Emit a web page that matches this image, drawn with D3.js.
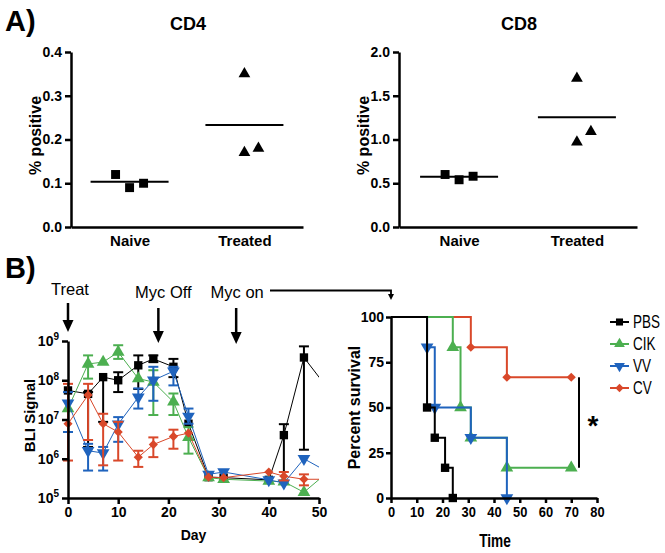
<!DOCTYPE html>
<html><head><meta charset="utf-8">
<script src="https://cdn.jsdelivr.net/npm/d3@7/dist/d3.min.js"></script>
<style>
body{margin:0;background:#fff;}
svg{display:block;}
text{font-family:"Liberation Sans",Arial,sans-serif;}
</style></head>
<body>
<svg id="chart" width="665" height="553"></svg>
<script>
// ---------------- DATA ----------------
const groups = ["Naive", "Treated"];
const cd4Naive = [0.12, 0.09, 0.10];
const cd4Treated = [0.35, 0.17, 0.18];
const cd8Naive = [0.60, 0.54, 0.58];
const cd8Treated = [1.70, 0.97, 1.09];
const cd4Ticks = [0.0, 0.1, 0.2, 0.3, 0.4];
const cd8Ticks = [0.0, 0.5, 1.0, 1.5, 2.0];

const bliDays = [0, 4, 7, 10, 14, 17, 21, 24, 28, 31, 40, 43, 47, 54];
const pbsBli = [5.5e7, 4.5e7, 1.2e8, 1.0e8, 2.4e8, 3.5e8, 2.2e8, 7.8e6, 3.4e5, 3.3e5, 2.9e5, 4.0e6, 3.8e8, 2.6e7];
const pbsHi  = [null, 5.0e7, null, 1.6e8, 4.3e8, 4.3e8, 3.5e8, null, null, null, null, 7.6e6, 7.3e8, null];
const pbsLo  = [null, 2.0e6, 8.7e6, 5.0e7, 6.0e7, 2.9e8, 1.2e8, null, null, null, null, 2.3e5, 1.7e6, null];
const cikBli = [1.9e7, 2.6e8, 2.9e8, 5.2e8, 1.1e8, 9.0e7, 2.8e7, 3.5e6, 3.3e5, 3.0e5, 2.7e5, 2.6e5, 1.4e5, 8.0e5];
const cikHi  = [null, 4.3e8, null, 7.8e8, null, 1.8e8, 4.6e7, 6.4e6, null, null, null, null, null, null];
const cikLo  = [null, 1.1e8, null, 3.5e8, null, 1.3e7, 1.3e7, 1.35e6, null, null, null, null, null, null];
const vvBli  = [2.6e7, 1.6e6, 1.4e6, 7.6e6, 3.7e7, 1.0e8, 1.7e8, 1.2e7, 4.0e5, 4.6e5, 2.9e5, 2.4e5, 1.0e6, 3.2e5];
const vvHi   = [5.0e7, 2.4e6, 2.0e6, 1.15e7, 6.2e7, 2.2e8, 2.2e8, 1.9e7, null, null, null, null, null, null];
const vvLo   = [4.8e6, 5.0e5, 5.0e5, 2.7e6, 1.9e7, 3.0e7, 7.4e7, 7.8e6, null, null, null, null, null, null];
const cvBli  = [7.8e6, 4.2e7, 7.8e6, 4.8e6, 1.1e6, 2.3e6, 3.7e6, 4.5e6, 3.4e5, 3.3e5, 4.6e5, 3.6e5, 3.0e5, 3.0e5];
const cvHi   = [8.1e7, 8.1e7, 1.4e7, 8.7e6, 1.6e6, 3.5e6, 5.5e6, null, null, null, null, 4.6e5, 4.0e5, null];
const cvLo   = [9.0e5, 3.0e6, 6.8e5, 9.0e5, 6.2e5, 1.1e6, 1.8e6, null, null, null, null, 2.8e5, 2.1e5, null];
const bliTicksY = [1e5, 1e6, 1e7, 1e8, 1e9];
const bliTicksX = [0, 10, 20, 30, 40, 50];

const annotations = ["Treat", "Myc Off", "Myc on"];
const annotationDays = [0, 18, 33.5];

const seriesNames = ["PBS", "CIK", "VV", "CV"];
const seriesColors = ["#000000", "#4caf50", "#1f63bd", "#d9482a"];

// survival: [time, percent] steps, first point is start
const pbsSurv = [[0, 100], [14, 50], [17, 33.3], [21, 16.7], [24, 0]];
const cikSurv = [[0, 100], [24, 83.3], [27, 50], [31, 33.3], [45, 16.7], [70, 16.7]];
const vvSurv  = [[0, 100], [14, 83.3], [17, 50], [31, 33.3], [45, 0]];
const cvSurv  = [[0, 100], [31, 83.3], [45, 66.7], [70, 66.7]];
const survTicksX = [0, 10, 20, 30, 40, 50, 60, 70, 80];
const survTicksY = [0, 25, 50, 75, 100];
const sigRange = [16.7, 66.7];
const sigTime = 73;

// ---------------- DRAW ----------------
const svg = d3.select("#chart");

function symPath(kind, size) {
  if (kind === "square" || kind === "diamond") return d3.symbol(d3.symbolSquare, size)();
  return d3.symbol(d3.symbolTriangle, size)();
}
function symRot(kind) {
  if (kind === "down") return " rotate(180)";
  if (kind === "diamond") return " rotate(45)";
  return "";
}
const seriesSymbols = ["square", "triangle", "down", "diamond"];

function styleAxis(g, fs) {
  g.select(".domain").attr("stroke", "#000").attr("stroke-width", 2.5);
  g.selectAll(".tick line").attr("stroke", "#000").attr("stroke-width", 2.5);
  g.selectAll(".tick text").attr("fill", "#000").attr("font-size", fs).attr("font-weight", "bold");
}

// ---- Panel A ----
svg.append("text").attr("x", 5).attr("y", 31).attr("font-size", 29).attr("font-weight", "bold").text("A)");

function scatterPanel(x0, x1, maxV, ticks, title, naive, treated) {
  const y = d3.scaleLinear().domain([0, maxV]).range([227, 52]);
  const x = d3.scalePoint().domain(groups).range([x0, x1]).padding(0.51);
  const g = svg.append("g");
  const ya = g.append("g").attr("transform", `translate(${x0},0)`)
    .call(d3.axisLeft(y).tickValues(ticks).tickFormat(d3.format(".1f")).tickSize(6).tickSizeOuter(0).tickPadding(3));
  styleAxis(ya, 14);
  const xa = g.append("g").attr("transform", `translate(0,227)`)
    .call(d3.axisBottom(x).tickSize(0).tickSizeOuter(0).tickPadding(8));
  styleAxis(xa, 15);
  g.append("text").attr("x", (x0 + x1) / 2 + 1).attr("y", 30).attr("text-anchor", "middle")
    .attr("font-size", 18).attr("font-weight", "bold").text(title);
  g.append("text").attr("transform", `translate(${x0 - 30},${(52 + 227) / 2 - 4}) rotate(-90)`)
    .attr("text-anchor", "middle").attr("font-size", 16).attr("font-weight", "bold").text("% positive");
  const step = 14;
  const sets = [[naive, "square", [-1, 0, 1], 0], [treated, "triangle", [0, 0, 1], 1]];
  sets.forEach(([vals, kind, jit, gi]) => {
    const cx = x(groups[gi]);
    const mean = d3.mean(vals);
    g.append("line").attr("x1", cx - 39).attr("x2", cx + 39).attr("y1", y(mean)).attr("y2", y(mean))
      .attr("stroke", "#000").attr("stroke-width", 2);
    g.selectAll(null).data(vals).enter().append("path")
      .attr("d", symPath(kind, kind === "square" ? 80 : 60))
      .attr("transform", (d, i) => `translate(${cx + jit[i] * step},${y(d)})`)
      .attr("fill", "#000");
  });
}
scatterPanel(71, 303, 0.4, cd4Ticks, "CD4", cd4Naive, cd4Treated);
scatterPanel(399, 637, 2.0, cd8Ticks, "CD8", cd8Naive, cd8Treated);

// ---- Panel B ----
svg.append("text").attr("x", 5).attr("y", 278).attr("font-size", 29).attr("font-weight", "bold").text("B)");

const bx = d3.scaleLinear().domain([0, 50]).range([68, 319]);
const by = d3.scaleLog().domain([1e5, 1e9]).range([498, 341]);

svg.append("defs").append("clipPath").attr("id", "bliClip")
  .append("rect").attr("x", 0).attr("y", 300).attr("width", bx(50)).attr("height", 220);

const bliSeries = [
  {v: pbsBli, hi: pbsHi, lo: pbsLo},
  {v: cikBli, hi: cikHi, lo: cikLo},
  {v: vvBli, hi: vvHi, lo: vvLo},
  {v: cvBli, hi: cvHi, lo: cvLo}
];
const bg = svg.append("g").attr("clip-path", "url(#bliClip)");
bliSeries.forEach((s, si) => {
  const col = seriesColors[si];
  const pts = bliDays.map((d, i) => ({d, v: s.v[i], hi: s.hi[i], lo: s.lo[i]}));
  bg.append("path").datum(pts)
    .attr("d", d3.line().x(p => bx(p.d)).y(p => by(p.v)))
    .attr("fill", "none").attr("stroke", col).attr("stroke-width", 1);
  pts.forEach(p => {
    const px = bx(p.d);
    [p.hi, p.lo].forEach(e => {
      if (e == null) return;
      bg.append("line").attr("x1", px).attr("x2", px).attr("y1", by(p.v)).attr("y2", by(e))
        .attr("stroke", col).attr("stroke-width", 2);
      bg.append("line").attr("x1", px - 5).attr("x2", px + 5).attr("y1", by(e)).attr("y2", by(e))
        .attr("stroke", col).attr("stroke-width", 2);
    });
  });
  const kind = seriesSymbols[si];
  bg.selectAll(null).data(pts).enter().append("path")
    .attr("d", symPath(kind, kind === "diamond" ? 42 : 70))
    .attr("transform", p => `translate(${bx(p.d)},${by(p.v)})${symRot(kind)}`)
    .attr("fill", col);
});

const bya = svg.append("g").attr("transform", `translate(68,0)`)
  .call(d3.axisLeft(by).tickValues(bliTicksY).tickSize(6).tickSizeOuter(0).tickPadding(3).tickFormat(""));
styleAxis(bya, 14);
bya.selectAll(".tick text").each(function (d) {
  const t = d3.select(this);
  t.text("10");
  t.append("tspan").attr("dy", "-0.55em").attr("font-size", 10).text(Math.round(Math.log10(d)));
});
const bxa = svg.append("g").attr("transform", `translate(0,498)`)
  .call(d3.axisBottom(bx).tickValues(bliTicksX).tickSize(6).tickSizeOuter(0).tickPadding(3));
styleAxis(bxa, 14);
svg.append("text").attr("x", (bx(0) + bx(50)) / 2).attr("y", 540).attr("text-anchor", "middle")
  .attr("font-size", 14).attr("font-weight", "bold").text("Day");
svg.append("text").attr("transform", `translate(35,${(341 + 498) / 2 - 4}) rotate(-90)`)
  .attr("text-anchor", "middle").attr("font-size", 15).attr("font-weight", "bold").text("BLI Signal");

// annotations
const annY = [295, 298, 298];
const arrowTop = [303, 308, 308];
const arrowBot = [332, 343, 344];
const annOffset = [2, 5, 1];
annotations.forEach((a, i) => {
  const ax = bx(annotationDays[i]);
  svg.append("text").attr("x", ax + annOffset[i]).attr("y", annY[i]).attr("text-anchor", "middle")
    .attr("font-size", 16.5).text(a);
  svg.append("line").attr("x1", ax).attr("x2", ax).attr("y1", arrowTop[i]).attr("y2", arrowBot[i] - 10)
    .attr("stroke", "#000").attr("stroke-width", 2.5);
  svg.append("path").attr("d", `M${ax - 5.5},${arrowBot[i] - 12}L${ax + 5.5},${arrowBot[i] - 12}L${ax},${arrowBot[i]}Z`)
    .attr("fill", "#000");
});

// ---- Survival ----
const sx = d3.scaleLinear().domain([0, 80]).range([391, 597]);
const sy = d3.scaleLinear().domain([0, 100]).range([498, 317]);

svg.append("path").attr("d", `M270,290.5H${sx(0)}V296`).attr("fill", "none").attr("stroke", "#000").attr("stroke-width", 1.8);
svg.append("path").attr("d", `M${sx(0) - 3},294L${sx(0) + 3},294L${sx(0)},300Z`).attr("fill", "#000");

const survSeries = [pbsSurv, cikSurv, vvSurv, cvSurv];
const sg = svg.append("g");
[3, 1, 2, 0].forEach(si => {
  const data = survSeries[si];
  const col = seriesColors[si];
  sg.append("path").datum(data)
    .attr("d", d3.line().x(p => sx(p[0])).y(p => sy(p[1])).curve(d3.curveStepAfter))
    .attr("fill", "none").attr("stroke", col).attr("stroke-width", 2);
  const kind = seriesSymbols[si];
  sg.selectAll(null).data(data.slice(1)).enter().append("path")
    .attr("d", symPath(kind, kind === "diamond" ? 42 : 70))
    .attr("transform", p => `translate(${sx(p[0])},${sy(p[1])})${symRot(kind)}`)
    .attr("fill", col);
});

const sya = svg.append("g").attr("transform", `translate(${sx(0)},0)`)
  .call(d3.axisLeft(sy).tickValues(survTicksY).tickSize(5).tickSizeOuter(0).tickPadding(2));
styleAxis(sya, 14);
const sxa = svg.append("g").attr("transform", `translate(0,${sy(0)})`)
  .call(d3.axisBottom(sx).tickValues(survTicksX).tickSize(5).tickSizeOuter(0).tickPadding(4));
styleAxis(sxa, 14);
sxa.selectAll(".tick text").attr("transform", "scale(0.92,1)");
svg.append("text").attr("transform", "translate(495,547) scale(0.76,1)").attr("text-anchor", "middle")
  .attr("font-size", 18).attr("font-weight", "bold").text("Time");
svg.append("text").attr("transform", `translate(360,${(317 + 498) / 2}) rotate(-90)`)
  .attr("text-anchor", "middle").attr("font-size", 16).attr("font-weight", "bold").text("Percent survival");

svg.append("line").attr("x1", sx(sigTime)).attr("x2", sx(sigTime)).attr("y1", sy(sigRange[1])).attr("y2", sy(sigRange[0]))
  .attr("stroke", "#000").attr("stroke-width", 2);
svg.append("text").attr("x", sx(sigTime) + 14).attr("y", sy((sigRange[0] + sigRange[1]) / 2) + 12)
  .attr("text-anchor", "middle").attr("font-size", 28).attr("font-weight", "bold").text("*");

// legend
const lg = svg.append("g");
seriesNames.forEach((n, i) => {
  const ly = 322 + i * 22;
  lg.append("line").attr("x1", 610).attr("x2", 629).attr("y1", ly).attr("y2", ly)
    .attr("stroke", seriesColors[i]).attr("stroke-width", 2);
  const kind = seriesSymbols[i];
  lg.append("path").attr("d", symPath(kind, kind === "diamond" ? 35 : 50))
    .attr("transform", `translate(619.5,${ly})${symRot(kind)}`).attr("fill", seriesColors[i]);
  lg.append("text").attr("transform", `translate(633,${ly + 6}) scale(0.75,1)`).attr("font-size", 18).text(n);
});
</script>
</body></html>
